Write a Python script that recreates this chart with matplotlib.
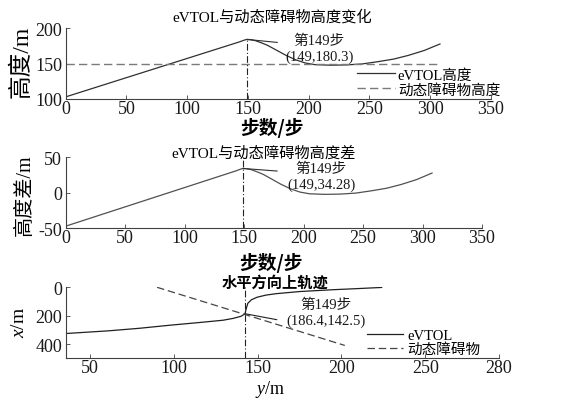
import matplotlib
matplotlib.use("Agg")
import matplotlib.pyplot as plt

plt.rcParams['font.family'] = ['Liberation Serif', 'Noto Sans CJK SC']
plt.rcParams['mathtext.fontset'] = 'custom'
plt.rcParams['mathtext.rm'] = 'Liberation Serif'
plt.rcParams['mathtext.it'] = 'Liberation Serif:italic'
plt.rcParams['axes.unicode_minus'] = False

# ---- data ----
evtol_steps = [0, 143, 147, 149, 152, 156, 161, 166, 173, 181, 189, 197, 205,
               218, 231, 244, 257, 270, 282, 295, 308]
evtol_height = [103, 180.8, 183.3, 184.28, 184.0, 182.6, 179.5, 176.0, 169.5,
                162.0, 155.6, 151.0, 148.6, 147.8, 148.2, 149.6, 152.8, 156.5,
                161.7, 168.6, 177.8]
obstacle_steps = [0, 308]
obstacle_height = [150, 150]

evtol_y = [35.5, 61, 79.5, 98, 116.5, 129.5, 135.5, 140.2, 142.5, 142.7, 143.2,
           144.2, 146.3, 149.7, 155.0, 161.0, 175.0, 195.0, 210.0, 224.0]
evtol_x = [326, 307, 289, 267, 247, 232, 219, 204, 186.4, 175, 150,
           112, 88, 70, 55, 45, 30, 17, 9, 1]
obstacle_y = [90.0, 202.0]
obstacle_x = [0, 410]

mark_step = 149
mark_h = 184.28
mark_label_h = 180.3
mark_diff = 34.28
mark_xy = (142.5, 186.4)

x_ticks_steps = [0, 50, 100, 150, 200, 250, 300, 350]
y_ticks_h = [100, 150, 200]
y_ticks_d = [-50, 0, 50]
y_ticks_xy = [0, 200, 400]
x_ticks_xy = [50, 100, 150, 200, 250, 294]
x_ticklabels_xy = ['50', '100', '150', '200', '250', '280']

diff = [h - obstacle_height[0] for h in evtol_height]

W, H = 565, 406
fig = plt.figure(figsize=(W / 100, H / 100), dpi=100)

def add_ax(l, r, t, b):
    return fig.add_axes([l / W, 1 - b / H, (r - l) / W, (b - t) / H])

def ftext(x, y, s, **kw):
    return fig.text(x / W, 1 - y / H, s, ha='center', va='center', **kw)

ax1 = add_ax(65.7, 491, 29.3, 100)
ax2 = add_ax(65.7, 482, 158.3, 229.3)
ax3 = add_ax(65.7, 499, 288.3, 359.2)

lc = '#303030'
dc = '#7a7a7a'
tick_fs = 13
dashdot = (0, (6, 2, 1, 2))

def style(ax):
    for s in ['top', 'right']:
        ax.spines[s].set_visible(False)
    for s in ['left', 'bottom']:
        ax.spines[s].set_color('#404040')
        ax.spines[s].set_linewidth(0.8)
    ax.tick_params(direction='in', length=3, width=0.6, colors='#404040',
                   labelsize=tick_fs, labelcolor='#1a1a1a')
    ax.tick_params(axis='y', pad=2.5)
    ax.tick_params(axis='x', pad=0.5)

cjk = ['Noto Sans CJK SC', 'Liberation Serif']
mix = ['Liberation Serif', 'Noto Sans CJK SC']
ann_fs = 10.5

# ---- panel 1 ----
ax1.plot(evtol_steps, evtol_height, color=lc, lw=0.9, label='eVTOL高度')
ax1.plot(obstacle_steps, obstacle_height, color=dc, lw=1.0, dashes=(6, 3),
         label='动态障碍物高度')
ax1.vlines(mark_step, 100, mark_h, colors='#222222', lw=0.8, linestyles=dashdot)
ax1.set_xlim(0, 350)
ax1.set_ylim(100, 200)
ax1.set_xticks(x_ticks_steps)
ax1.set_yticks(y_ticks_h)
style(ax1)
ax1.annotate('第149步\n(149,%.1f)' % mark_label_h, xy=(mark_step, mark_h),
             xytext=(180.5, 172), ha='left', va='center', multialignment='center',
             fontsize=ann_fs, family=mix, color='#1a1a1a',
             arrowprops=dict(arrowstyle='-', color=lc, lw=0.8, shrinkA=3.5,
                             shrinkB=0, relpos=(0, 0.67)))
ax1.legend(loc='upper left', bbox_to_anchor=(0.685, 0.44), frameon=False,
           prop={'family': mix, 'size': 10.5}, handlelength=2.6,
           handletextpad=0.2, labelspacing=0.08, borderpad=0, borderaxespad=0)

# ---- panel 2 ----
ax2.plot(evtol_steps, diff, color='#505050', lw=0.9)
ax2.axvline(mark_step, color='#222222', lw=0.8, linestyle=dashdot)
ax2.set_xlim(0, 350)
ax2.set_ylim(-50, 50)
ax2.set_xticks(x_ticks_steps)
ax2.set_yticks(y_ticks_d)
style(ax2)
ax2.annotate('第149步\n(149,%.2f)' % mark_diff, xy=(mark_step, mark_diff),
             xytext=(186, 23.5), ha='left', va='center', multialignment='center',
             fontsize=ann_fs, family=mix, color='#1a1a1a',
             arrowprops=dict(arrowstyle='-', color=lc, lw=0.8, shrinkA=5,
                             shrinkB=0, relpos=(0, 0.65)))

# ---- panel 3 ----
ax3.plot(evtol_y, evtol_x, color='#202020', lw=0.9, label='eVTOL')
ax3.plot(obstacle_y, obstacle_x, color='#454545', lw=0.9, dashes=(6, 3),
         label='动态障碍物')
ax3.axvline(mark_xy[0], color='#222222', lw=0.8, linestyle=dashdot)
ax3.set_xlim(35.5, 294)
ax3.set_ylim(500, 0)
ax3.set_xticks(x_ticks_xy)
ax3.set_xticklabels(x_ticklabels_xy)
ax3.set_yticks(y_ticks_xy)
style(ax3)
ax3.annotate('第149步\n(%.1f,%.1f)' % (mark_xy[1], mark_xy[0]), xy=mark_xy,
             xytext=(167.2, 176), ha='left', va='center', multialignment='center',
             fontsize=ann_fs, family=mix, color='#1a1a1a',
             arrowprops=dict(arrowstyle='-', color='#222222', lw=0.8, shrinkA=5,
                             shrinkB=0, relpos=(0, 0.18)))
ax3.legend(loc='upper left', bbox_to_anchor=(0.695, 0.42), frameon=False,
           prop={'family': mix, 'size': 10.5}, handlelength=2.5,
           handletextpad=0.3, labelspacing=0.05, borderpad=0, borderaxespad=0)

# ---- titles and labels ----
ftext(272, 17, 'eVTOL与动态障碍物高度变化', fontsize=11, family=mix)
ftext(264, 153.3, 'eVTOL与动态障碍物高度差', fontsize=11, family=mix)
ftext(275, 282.7, '水平方向上轨迹', fontsize=11, family=cjk, fontweight='bold')
ftext(272, 128, '步数/步', fontsize=13.5, family=cjk, fontweight='bold')
ftext(271, 263, '步数/步', fontsize=13.5, family=cjk, fontweight='bold')
ftext(21, 62, '高度/m', fontsize=17, family=mix, rotation=90)
ftext(25, 195, '高度差/m', fontsize=14.5, family=mix, rotation=90)
ftext(20, 322, r'$x$/m', fontsize=14, rotation=90)
ftext(270, 390, r'$y$/m', fontsize=13)

fig.savefig('out.png', dpi=100)
